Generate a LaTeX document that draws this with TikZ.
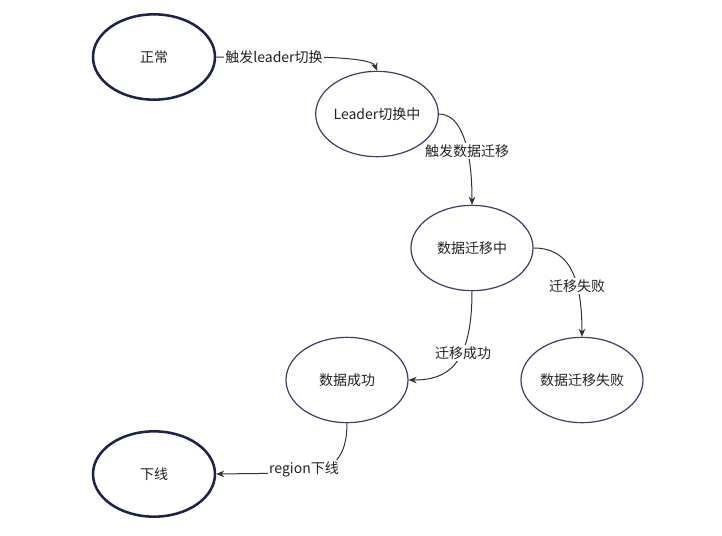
\documentclass[tikz,border=0pt]{standalone}
\usepackage{fontspec}
\setmainfont{Noto Sans CJK SC}
\usetikzlibrary{shapes.geometric,arrows.meta}
\definecolor{navy}{HTML}{1C2150}
\definecolor{navythin}{HTML}{3A3D6E}
\definecolor{edgec}{HTML}{333333}
\definecolor{txt}{HTML}{222222}
\tikzset{
  state/.style={ellipse, draw=navythin, line width=0.9pt, minimum width=91.5pt, minimum height=64pt, inner sep=0pt, font=\fontsize{10.5pt}{12pt}\selectfont, text=txt},
  endstate/.style={state, draw=navy, line width=1.9pt},
  edge/.style={draw=edgec, line width=0.75pt, -{Stealth[length=6pt,width=5pt]}},
  lbl/.style={fill=white, inner sep=1pt, font=\fontsize{10.5pt}{12pt}\selectfont, text=txt}
}
\begin{document}
\begin{tikzpicture}[x=0.75pt,y=-0.75pt]
\useasboundingbox[fill=white] (0,0) rectangle (722,536);
\node[endstate] (n1) at (154,57) {正常};
\node[state] (n2) at (377,114) {Leader切换中};
\node[state] (n3) at (472,248) {数据迁移中};
\node[state] (n4) at (347,380) {数据成功};
\node[state] (n5) at (582,380) {数据迁移失败};
\node[endstate] (n6) at (154,474) {下线};
\coordinate (c1) at (300,57);
\coordinate (c5) at (300,473);
\draw[edge] (n1.east) -- (c1) .. controls (345,57) and (373,60) .. (n2.north);
\node[lbl] (l1) at (274,57) {触发leader切换};
\draw[edge] (n2.east) .. controls (462,114) and (472,150) .. (n3.north);
\node[lbl] (l2) at (467,151) {触发数据迁移};
\draw[edge] (n3.east) .. controls (565,248) and (582,270) .. (n5.north);
\node[lbl] (l3) at (577,286) {迁移失败};
\draw[edge] (n3.south) .. controls (472,365) and (448,380) .. (n4.east);
\node[lbl] (l4) at (463,353) {迁移成功};
\draw[edge] (n4.south) .. controls (347,455) and (335,473) .. (c5) -- (n6.east);
\node[lbl] (l5) at (304,469) {region下线};
\end{tikzpicture}
\end{document}
